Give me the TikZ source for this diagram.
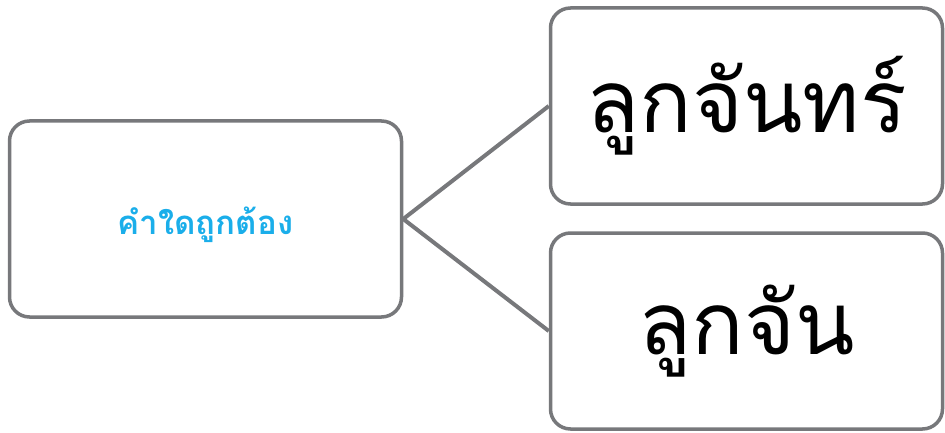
\documentclass[tikz,border=0pt]{standalone}
\usepackage{fontspec}
\newfontfamily\thaifont[Script=Thai]{Loma}
\definecolor{boxgray}{HTML}{77787B}
\definecolor{qblue}{HTML}{1AAEEA}
\begin{document}
\begin{tikzpicture}[x=1pt,y=1pt,
  card/.style={draw=boxgray, line width=3.5pt, rounded corners=20pt, minimum width=392pt, minimum height=196pt, inner sep=0pt, fill=white},
  link/.style={draw=boxgray, line width=4pt}]
\useasboundingbox (0,0) rectangle (945,432);
\node[card] (q) at (205.5,213) {};
\node[text=qblue, font=\thaifont\bfseries\fontsize{33}{40}\selectfont, inner sep=0pt] (qt) at (205.5,207) {คำใดถูกต้อง};
\node[card, font=\thaifont\fontsize{87}{104}\selectfont] (a) at (746.5,326) {ลูกจันทร์};
\node[card, font=\thaifont\fontsize{87}{104}\selectfont] (b) at (746.5,101) {ลูกจัน};
\draw[link] (q.east) -- (a.west);
\draw[link] (q.east) -- (b.west);
\end{tikzpicture}
\end{document}
